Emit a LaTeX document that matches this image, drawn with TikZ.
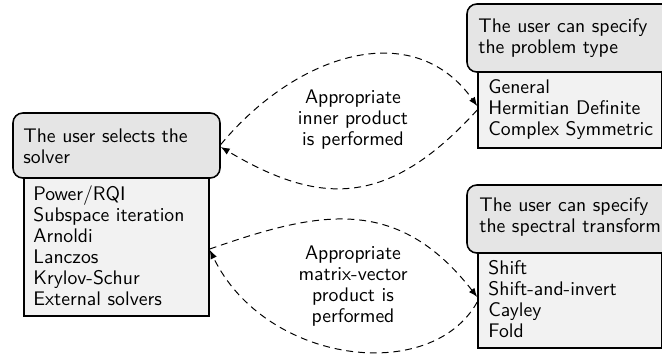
\documentclass[tikz,border=0pt]{standalone}
\usepackage{fontspec}
\usetikzlibrary{arrows.meta,calc}
\definecolor{headfill}{RGB}{229,229,229}
\definecolor{bodyfill}{RGB}{242,242,242}
\newcommand{\stkl}[1]{\begin{tabular}[t]{@{}l@{}}#1\end{tabular}}
\newcommand{\stkc}[1]{\begin{tabular}[t]{@{}c@{}}#1\end{tabular}}
\renewcommand{\arraystretch}{0.89}
\begin{document}
\begin{tikzpicture}[x=0.508pt,y=-0.508pt, font=\sffamily,
 headbox/.style={draw, line width=0.8pt, rounded corners=5pt, fill=headfill, minimum width=207*0.508pt, inner sep=0pt},
 bodybox/.style={draw, line width=0.8pt, fill=bodyfill, inner sep=0pt},
 txt/.style={inner sep=0pt, anchor=base west},
 lbl/.style={inner sep=0pt, anchor=base},
 conn/.style={line width=0.5pt, dash pattern=on 3.5pt off 2.5pt, -{Latex[length=4.5pt,width=3.5pt]}}]
\useasboundingbox (0,0) rectangle (662,354);
\node[bodybox, minimum width=185*0.508pt, minimum height=138*0.508pt] (lbody) at (116.5,247) {};
\node[headbox, minimum height=65*0.508pt] (lhead) at (116.5,145.5) {};
\node[bodybox, minimum width=184*0.508pt, minimum height=76*0.508pt] (tbody) at (570,110) {};
\node[headbox, minimum height=68*0.508pt] (thead) at (570.5,38) {};
\node[bodybox, minimum width=184*0.508pt, minimum height=95*0.508pt] (bbody) at (570,300.5) {};
\node[headbox, minimum height=68*0.508pt] (bhead) at (570.5,219) {};
\node[txt] (lheadtxt) at (23,142) {\stkl{The user selects the\\solver}};
\node[txt] (lbodytxt) at (33,200.7) {\stkl{Power/RQI\\Subspace iteration\\Arnoldi\\Lanczos\\Krylov-Schur\\External solvers}};
\node[txt] (theadtxt) at (478,32) {\stkl{The user can specify\\the problem type}};
\node[txt] (tbodytxt) at (488,93.5) {\stkl{General\\Hermitian Definite\\Complex Symmetric}};
\node[txt] (bheadtxt) at (479,211.7) {\stkl{The user can specify\\the spectral transform}};
\node[txt] (bbodytxt) at (488,274) {\stkl{Shift\\Shift-and-invert\\Cayley\\Fold}};
\node[lbl] (toplbl) at (353,103.3) {\stkc{Appropriate\\inner product\\is performed}};
\node[lbl] (botlbl) at (353,259.5) {\stkc{Appropriate\\matrix-vector\\product is\\performed}};
\draw[conn] ($(lhead.east)+(0,-1)$) .. controls (296,54) and (413,16) .. ($(tbody.west)+(0,-4)$);
\draw[conn] ($(tbody.west)+(0,0)$) .. controls (388,208) and (320,206) .. ($(lhead.east)+(0,1.5)$);
\draw[conn] ($(lbody.east)+(0,2)$) .. controls (316,212) and (396,193) .. ($(bbody.west)+(0,-3.5)$);
\draw[conn] ($(bbody.west)+(0,1.5)$) .. controls (431,385) and (265,364) .. ($(lbody.east)+(0,3)$);
\end{tikzpicture}
\end{document}
